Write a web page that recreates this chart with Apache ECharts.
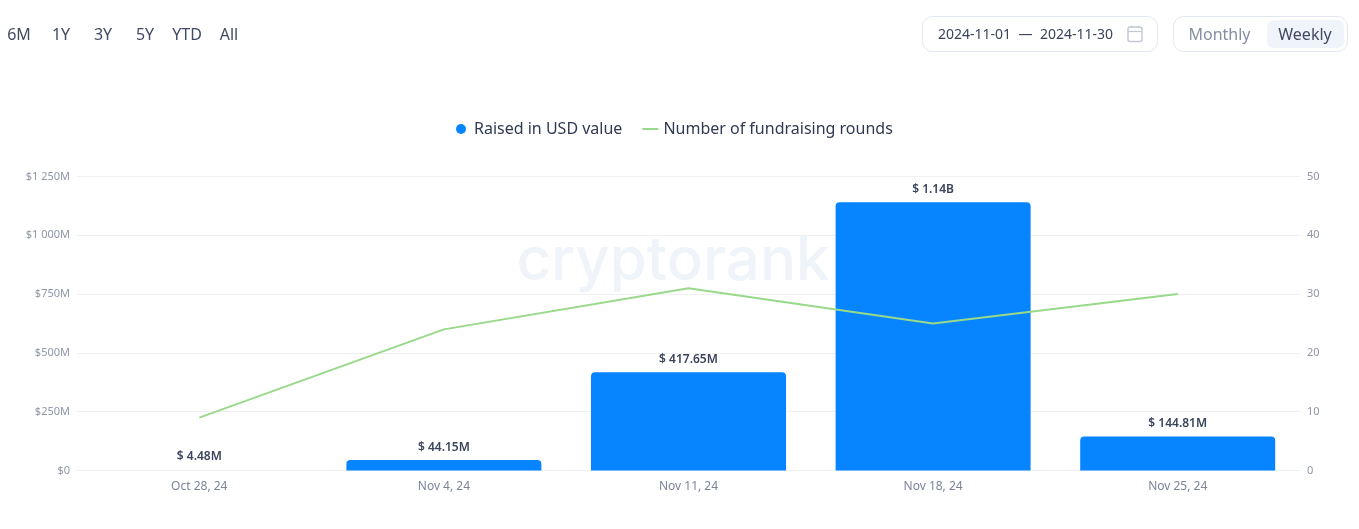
<!DOCTYPE html>
<html><head><meta charset="utf-8">
<style>html,body{margin:0;padding:0;background:#fff}#c{width:1359px;height:529px}</style>
<script src="https://cdn.jsdelivr.net/npm/echarts@6/dist/echarts.min.js"></script>
</head><body><div id="c"></div>
<script>
const categories = ['Oct 28, 24','Nov 4, 24','Nov 11, 24','Nov 18, 24','Nov 25, 24'];
const raisedUsdMillions = [4.48,44.15,417.65,1140,144.81];
const raisedLabels = ['$ 4.48M','$ 44.15M','$ 417.65M','$ 1.14B','$ 144.81M'];
const rounds = [9,24,31,25,30];
const rangeButtons = [['6M',19],['1Y',61],['3Y',103],['5Y',145],['YTD',187],['All',229]];
const leftTicks = {0:'$0',250:'$250M',500:'$500M',750:'$750M',1000:'$1 000M',1250:'$1 250M'};
const FONT = '"Noto Sans"';
const chart = echarts.init(document.getElementById('c'), null, {renderer:'canvas'});
const txt = (x,y,text,fill,size,align,extra) => ({type:'text',silent:true,x,y,style:Object.assign({text,fill,font:`${size||16}px ${FONT}`,align:align||'center',verticalAlign:'middle'},extra||{})});
const graphics = [
  ...rangeButtons.map(b=>txt(b[1],35,b[0],'#3f4a63',16)),
  {type:'rect',silent:true,shape:{x:922.5,y:16.5,width:235,height:35,r:10},style:{fill:'#fff',stroke:'#e1e7f0',lineWidth:1}},
  txt(974.5,35.5,'2024-11-01','#3a445c',14),
  txt(1025.5,35.5,'—','#3a445c',14),
  txt(1076.5,35.5,'2024-11-30','#3a445c',14),
  {type:'rect',silent:true,shape:{x:1128,y:27,width:14,height:14.5,r:2},style:{fill:'none',stroke:'#c3c8d4',lineWidth:1.4}},
  {type:'line',silent:true,shape:{x1:1128,y1:31.5,x2:1142,y2:31.5},style:{stroke:'#c3c8d4',lineWidth:1.2}},
  {type:'line',silent:true,shape:{x1:1131.5,y1:25.5,x2:1131.5,y2:28},style:{stroke:'#c3c8d4',lineWidth:1.2}},
  {type:'line',silent:true,shape:{x1:1138.5,y1:25.5,x2:1138.5,y2:28},style:{stroke:'#c3c8d4',lineWidth:1.2}},
  {type:'rect',silent:true,shape:{x:1173.5,y:16.5,width:174,height:35,r:10},style:{fill:'#fff',stroke:'#e1e7f0',lineWidth:1}},
  {type:'rect',silent:true,shape:{x:1267,y:20,width:77,height:28,r:7},style:{fill:'#eff3fa'}},
  txt(1219.5,35,'Monthly','#868ea3',16),
  txt(1305,35,'Weekly','#3f4a63',16),
  txt(673,262,'cryptorank','#eff4fa',60,'center',{font:`500 60px Inter`})
];
chart.setOption({
  animation:false,
  textStyle:{fontFamily:FONT},
  legend:{top:116,left:451,itemGap:20,itemWidth:16,itemHeight:10,
    textStyle:{color:'#2f3a52',fontSize:16,fontFamily:FONT},
    data:[{name:'Raised in USD value',icon:'circle',itemStyle:{color:'#0784ff'}},
          {name:'Number of fundraising rounds',icon:'path://M0 4H16V6H0Z',itemStyle:{color:'#98d98a'}}]},
  grid:{left:77,right:59,top:176.5,height:294,containLabel:false},
  xAxis:{type:'category',data:categories,axisTick:{show:false},
    axisLine:{lineStyle:{color:'#eceff4'}},
    axisLabel:{color:'#7c849a',fontSize:12,margin:10,fontFamily:FONT}},
  yAxis:[
    {type:'value',min:0,max:1250,interval:250,axisLine:{show:false},axisTick:{show:false},
     splitLine:{lineStyle:{color:'#eef0f4',width:1}},
     axisLabel:{color:'#8f96a8',fontSize:11,margin:7,fontFamily:FONT,formatter:v=>leftTicks[v]}},
    {type:'value',min:0,max:50,interval:10,position:'right',axisLine:{show:false},axisTick:{show:false},
     splitLine:{show:false},
     axisLabel:{color:'#8f96a8',fontSize:11,margin:7,fontFamily:FONT}}
  ],
  series:[
    {name:'Raised in USD value',type:'bar',
     data:raisedUsdMillions.map((v,i)=>i===0?{value:v,itemStyle:{color:'rgba(7,132,255,0)'}}:v),barWidth:195,
     itemStyle:{color:'#0784ff',borderRadius:[4,4,0,0]},
     label:{show:true,position:'top',distance:7,color:'#3a445c',fontSize:12,fontWeight:600,fontFamily:FONT,
       formatter:p=>raisedLabels[p.dataIndex]}},
    {name:'Number of fundraising rounds',type:'line',yAxisIndex:1,data:rounds,symbol:'none',
     lineStyle:{color:'#98d98a',width:2}}
  ],
  graphic:graphics
});
</script></body></html>
